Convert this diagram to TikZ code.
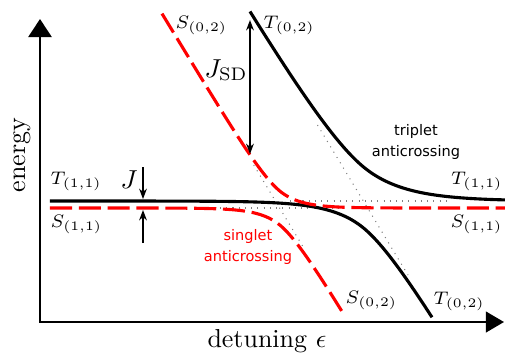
\documentclass[tikz,border=0pt]{standalone}
\usepackage{fontspec}
\newfontfamily\regimefont{DejaVu Sans}
\usetikzlibrary{arrows.meta}

\begin{document}
\begin{tikzpicture}[x=.385pt,y=-.385pt,
    declare function={
      dS(\x)=12+1.65*(\x-161);
      dT(\x)=12+1.65*(\x-249);
      up(\a,\b,\d)=min(\a,\b)-\d*exp(-abs(\a-\b)/(2*\d));
      lo(\a,\b,\d)=max(\a,\b)+\d*exp(-abs(\a-\b)/(2*\d));},
    level/.style={line width=1.2pt},
    singlet/.style={red,line width=1.2pt,dash pattern=on 8.5pt off 2.6pt},
    diabatic/.style={gray,line width=.4pt,dotted},
    state/.style={font=\fontsize{7.5}{9}\selectfont,inner sep=0pt},
    regime/.style={font=\regimefont\fontsize{5.6}{7.8}\selectfont,align=center},
    gap/.style={line width=.5pt,-{Stealth[length=4pt,width=3pt]}}]
  \useasboundingbox (0,0) rectangle (505,353);

  \coordinate (ytip) at (40,19);
  \coordinate (origin) at (40,322);
  \coordinate (xtip) at (504,322);
  \draw[line width=.8pt,{Triangle[length=7pt,width=9pt]}-{Triangle[length=7pt,width=8pt]}]
    (ytip) -- (origin) -- (xtip);
  \node[rotate=90] (energy) at (22,155) {energy};
  \node[anchor=base west,inner sep=0pt] (detuning) at (207,347) {detuning $\epsilon$};

  \draw[diabatic] (220,208) -- (340,208);
  \draw[diabatic] (290,201) -- (450,201);
  \draw[diabatic] (253.7,165) -- (305,250);
  \draw[diabatic] (317.5,125) -- (408,275);

  \draw[level] plot[domain=50:432,samples=150] (\x,{lo(201,dT(\x),27)});
  \draw[level] plot[domain=250:505,samples=150] (\x,{up(201,dT(\x),34)});
  \draw[singlet] plot[domain=50:342,samples=150] (\x,{lo(208,dS(\x),17)});
  \draw[singlet] plot[domain=162:505,samples=150] (\x,{up(208,dS(\x),17)});

  \node[state,anchor=base west] (T11l) at (50,184) {$T_{(1,1)}$};
  \node[state,anchor=base west] (S11l) at (50,227) {$S_{(1,1)}$};
  \node[state,anchor=base east] (T11r) at (503,184) {$T_{(1,1)}$};
  \node[state,anchor=base east] (S11r) at (503,227) {$S_{(1,1)}$};
  \node[state,anchor=base west] (S02t) at (175,28) {$S_{(0,2)}$};
  \node[state,anchor=base west] (T02t) at (263,28) {$T_{(0,2)}$};
  \node[state,anchor=base west] (S02b) at (345,303) {$S_{(0,2)}$};
  \node[state,anchor=base west] (T02b) at (433,304) {$T_{(0,2)}$};

  \coordinate (Jtop) at (143,167);
  \coordinate (Jhi) at (143,199);
  \coordinate (Jbot) at (143,243);
  \coordinate (Jlo) at (143,210);
  \draw[gap] (Jtop) -- (Jhi);
  \draw[gap] (Jbot) -- (Jlo);
  \node[anchor=base east,inner sep=0pt] (J) at (138,188) {$J$};

  \coordinate (SDtop) at (250,20);
  \coordinate (SDbot) at (250,154);
  \draw[gap,{Stealth[length=4pt,width=3pt]}-{Stealth[length=4pt,width=3pt]}] (SDtop) -- (SDbot);
  \node[anchor=base east,inner sep=0pt] (JSD) at (248,77) {$J_{\mathrm{SD}}$};

  \node[regime] (triplet) at (416,142) {triplet\\anticrossing};
  \node[regime,red] (singlet) at (248,247) {singlet\\anticrossing};
\end{tikzpicture}
\end{document}
